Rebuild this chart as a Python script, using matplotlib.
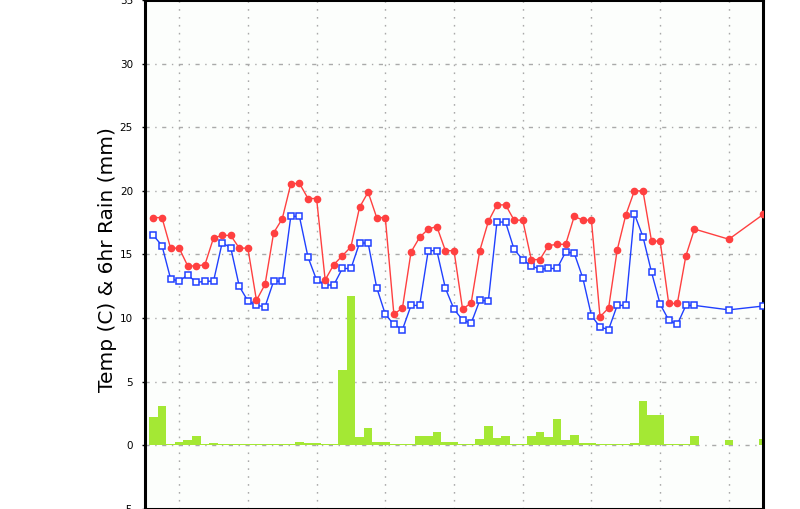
import matplotlib
matplotlib.use("Agg")
import matplotlib.pyplot as plt

# hours from start (3-hourly, then 12-hourly at end)
hours = [3 * (i + 1) for i in range(64)] + [204, 216]

temp = [17.9, 17.9, 15.5, 15.5, 14.1, 14.1, 14.2, 16.3, 16.5, 16.5,
        15.5, 15.5, 11.4, 12.65, 16.7, 17.8, 20.55, 20.6, 19.4, 19.4,
        13.0, 14.2, 14.9, 15.6, 18.7, 19.9, 17.9, 17.9, 10.3, 10.8,
        15.2, 16.35, 17.0, 17.2, 15.3, 15.3, 10.7, 11.2, 15.3, 17.6,
        18.9, 18.9, 17.7, 17.7, 14.6, 14.6, 15.7, 15.8, 15.8, 18.0,
        17.7, 17.7, 10.1, 10.8, 15.35, 18.1, 20.0, 20.0, 16.05, 16.05,
        11.15, 11.15, 14.9, 17.0, 16.2, 18.15]

dewpoint = [16.5, 15.7, 13.1, 12.9, 13.4, 12.8, 12.9, 12.9, 15.9, 15.55,
            12.5, 11.35, 11.0, 10.9, 12.9, 12.9, 18.0, 18.0, 14.8, 13.0,
            12.6, 12.6, 13.9, 13.9, 15.9, 15.9, 12.4, 10.3, 9.5, 9.1,
            11.0, 11.0, 15.3, 15.3, 12.35, 10.7, 9.85, 9.6, 11.4, 11.35,
            17.55, 17.55, 15.4, 14.6, 14.1, 13.85, 13.9, 13.9, 15.2, 15.1,
            13.15, 10.2, 9.3, 9.1, 11.0, 11.0, 18.2, 16.4, 13.6, 11.1,
            9.85, 9.5, 11.0, 11.0, 10.65, 10.95]

rain = [2.2, 3.1, 0.1, 0.25, 0.4, 0.7, 0.1, 0.15, 0.1, 0.1,
        0.1, 0.1, 0.1, 0.1, 0.1, 0.1, 0.1, 0.25, 0.15, 0.15,
        0.1, 0.1, 5.95, 11.75, 0.65, 1.35, 0.25, 0.25, 0.1, 0.1,
        0.1, 0.7, 0.7, 1.05, 0.3, 0.3, 0.1, 0.1, 0.5, 1.5,
        0.55, 0.7, 0.1, 0.1, 0.7, 1.05, 0.65, 2.05, 0.4, 0.85,
        0.15, 0.15, 0.1, 0.1, 0.1, 0.1, 0.15, 3.5, 2.4, 2.4,
        0.1, 0.1, 0.1, 0.7, 0.4, 0.5]

grid_hours = [12 + 24 * k for k in range(9)]
y_ticks = [-5, 0, 5, 10, 15, 20, 25, 30, 35]

fig = plt.figure(figsize=(8.0, 5.09), dpi=100)
fig.patch.set_facecolor("white")
ax = fig.add_axes([0.181, 0.0, 0.773, 1.0])
ax.set_facecolor("#fcfefc")

ax.bar(hours, rain, width=3.0, color="#a4e834", align="center", zorder=2)
ax.plot(hours, dewpoint, color="#2040ff", lw=1.0, marker="s", ms=4.8,
        mfc="white", mec="#2040ff", mew=1.1, zorder=3)
ax.plot(hours, temp, color="#ff4040", lw=1.0, marker="o", ms=4.5,
        mfc="#ff4040", mec="#ff4040", zorder=4)

ax.set_xlim(0, 216)
ax.set_ylim(-5, 35)
ax.set_xticks(grid_hours)
ax.set_yticks(y_ticks)
ax.tick_params(axis="x", bottom=False, labelbottom=False)
ax.tick_params(axis="y", direction="out", length=2.5, width=1, pad=6,
               labelsize=7.5, colors="black")

ax.xaxis.grid(True, color="#aaaaaa", lw=1.0, linestyle=(0, (1.2, 4.5)), zorder=1)
ax.yaxis.grid(True, color="#aaaaaa", lw=1.0, linestyle=(0, (3, 4, 1, 4)), zorder=1)
ax.set_axisbelow(True)

for side in ["left", "right", "top", "bottom"]:
    ax.spines[side].set_linewidth(2.2)
    ax.spines[side].set_color("black")

ax.set_ylabel("Temp (C) & 6hr Rain (mm)", fontsize=14.5)
ax.yaxis.set_label_coords(-0.045, 0.49)

fig.savefig("out.png", dpi=100, facecolor=fig.get_facecolor())
